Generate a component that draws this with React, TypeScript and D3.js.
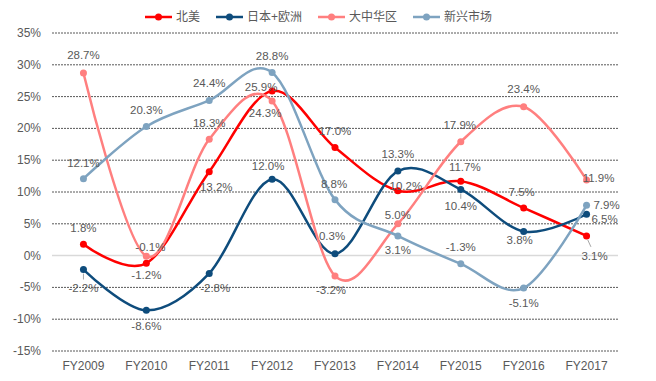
import React from "react";
import * as d3 from "d3";

const categories = ["FY2009", "FY2010", "FY2011", "FY2012", "FY2013", "FY2014", "FY2015", "FY2016", "FY2017"];
const seriesNames = ["北美", "日本+欧洲", "大中华区", "新兴市场"];
const northAmerica = [1.8, -1.2, 13.2, 25.9, 17.0, 10.2, 11.7, 7.5, 3.1];
const japanEurope = [-2.2, -8.6, -2.8, 12.0, 0.3, 13.3, 10.4, 3.8, 6.5];
const greaterChina = [28.7, -0.1, 18.3, 24.3, -3.2, 5.0, 17.9, 23.4, 11.9];
const emerging = [12.1, 20.3, 24.4, 28.8, 8.8, 3.1, -1.3, -5.1, 7.9];
const yTicks = [-15, -10, -5, 0, 5, 10, 15, 20, 25, 30, 35];

const seriesValues = [northAmerica, japanEurope, greaterChina, emerging];
const colors = ["#FF0000", "#0E4C7C", "#FF7F7F", "#7EA3C0"];

// label offsets [dx, dy] relative to the point (styling)
const labelOffsets: number[][][] = [
  [[0, -16], [0, 12], [7, 15], [-11, -4], [0, -16], [8, -5], [4, -14], [-2, -16], [8, 20]],
  [[0, 18], [0, 16], [6, 15], [-4, -13], [-3, -18], [0, -17], [0, 17], [-4, 9], [18, 5]],
  [[0, -18], [4, -9], [0, -16], [-7, 12], [-4, 14], [0, -9], [-1, -17], [0, -18], [12, -2]],
  [[0, -16], [0, -16], [0, -17], [0, -16], [-1, -16], [0, 14], [0, -17], [0, 15], [20, 0]],
];
// leader lines: [series, index]
const leaders = [[0, 8], [1, 0], [1, 6]];

const W = 656, H = 381;
const left = 52, right = 618, top = 33, bottom = 351;

export default function App() {
  const x = d3.scaleBand<string>().domain(categories).range([left, right]).padding(0);
  const cx = (c: string) => (x(c) as number) + x.bandwidth() / 2;
  const y = d3.scaleLinear().domain([-15, 35]).range([bottom, top]);
  const line = d3
    .line<number>()
    .x((_, i) => cx(categories[i]))
    .y((v) => y(v))
    .curve(d3.curveCatmullRom.alpha(0));

  const font = "'Liberation Sans', 'Noto Sans CJK SC', sans-serif";
  const textColor = "#595959";

  // legend layout
  const textW = (s: string) =>
    Array.from(s).reduce((a, ch) => a + (/[\u4e00-\u9fff]/.test(ch) ? 12 : 7), 0);
  let lx = 145;
  const legendItems = seriesNames.map((n, i) => {
    const item = { n, i, x: lx };
    lx += 27 + 4 + textW(n) + 16;
    return item;
  });

  return (
    <svg width={W} height={H} style={{ position: "absolute", left: 0, top: 0, background: "#fff" }} fontFamily={font}>
      {yTicks.map((t) => (
        <g key={t}>
          <line
            x1={left}
            x2={right}
            y1={y(t)}
            y2={y(t)}
            stroke={t === 0 ? "#D9D9D9" : "#595959"}
            strokeWidth={t === 0 ? 1.5 : 1}
            strokeDasharray={t === 0 ? undefined : "2,1"}
          />
          <text x={41} y={y(t)} textAnchor="end" dominantBaseline="central" fontSize={12} fill={textColor}>
            {t}%
          </text>
        </g>
      ))}
      {categories.map((c) => (
        <text key={c} x={cx(c)} y={366} textAnchor="middle" dominantBaseline="central" fontSize={12} fill={textColor}>
          {c}
        </text>
      ))}
      {seriesValues.map((vals, s) => (
        <g key={s}>
          <path d={line(vals) as string} fill="none" stroke={colors[s]} strokeWidth={2.5} />
          {vals.map((v, i) => (
            <circle key={i} cx={cx(categories[i])} cy={y(v)} r={3.5} fill={colors[s]} />
          ))}
        </g>
      ))}
      {leaders.map(([s, i]) => {
        const px = cx(categories[i]);
        const py = y(seriesValues[s][i]);
        const [dx, dy] = labelOffsets[s][i];
        return (
          <line
            key={`${s}-${i}`}
            x1={px + dx * 0.15}
            y1={py + (dy > 0 ? 4 : -4)}
            x2={px + dx * 0.55}
            y2={py + dy * 0.55}
            stroke="#A6A6A6"
            strokeWidth={1}
          />
        );
      })}
      {seriesValues.map((vals, s) =>
        vals.map((v, i) => (
          <text
            key={`${s}-${i}`}
            x={cx(categories[i]) + labelOffsets[s][i][0]}
            y={y(v) + labelOffsets[s][i][1]}
            textAnchor="middle"
            dominantBaseline="central"
            fontSize={11.5}
            fill={textColor}
          >
            {v.toFixed(1)}%
          </text>
        ))
      )}
      {legendItems.map(({ n, i, x: ix }) => (
        <g key={n}>
          <line x1={ix} x2={ix + 27} y1={17} y2={17} stroke={colors[i]} strokeWidth={2.5} />
          <circle cx={ix + 13.5} cy={17} r={3.5} fill={colors[i]} />
          <text x={ix + 31} y={17} dominantBaseline="central" fontSize={12} fill={textColor}>
            {n}
          </text>
        </g>
      ))}
    </svg>
  );
}
